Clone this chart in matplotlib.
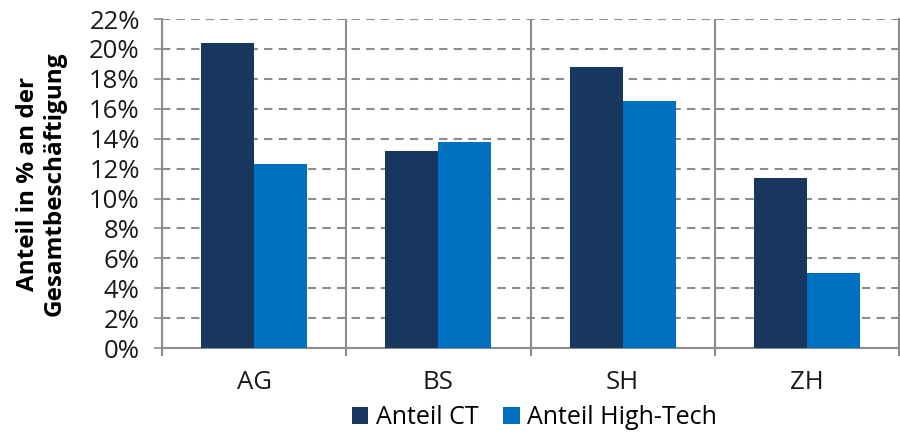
import matplotlib
matplotlib.use('Agg')
import matplotlib.pyplot as plt
import numpy as np

cantons = ['AG', 'BS', 'SH', 'ZH']
anteil_ct = [20.4, 13.2, 18.8, 11.4]
anteil_hightech = [12.3, 13.8, 16.5, 5.0]
y_ticks = list(range(0, 23, 2))

plt.rcParams['font.family'] = ['Open Sans', 'DejaVu Sans']

fig = plt.figure(figsize=(9, 4.32), dpi=100)
ax = fig.add_axes([0.18, 0.194, 0.819, 0.762])

x = np.arange(len(cantons))
w = 0.288
ax.bar(x - w / 2, anteil_ct, w, color='#17375E', label='Anteil CT', zorder=3)
ax.bar(x + w / 2, anteil_hightech, w, color='#0070C0', label='Anteil High-Tech', zorder=3)

ax.set_xlim(-0.5, len(cantons) - 0.5)
ax.set_ylim(0, 22)
ax.set_yticks(y_ticks)
ax.set_yticklabels(['%d%%' % t for t in y_ticks])

# category boundaries as major ticks (solid gridlines), names on minor ticks
ax.set_xticks(np.arange(-0.5, len(cantons), 1.0))
ax.set_xticklabels([])
ax.set_xticks(x, minor=True)
ax.set_xticklabels(cantons, minor=True)
ax.tick_params(axis='x', which='major', length=6, color='#8c8c8c', width=1.5)
ax.tick_params(axis='x', which='minor', length=0, pad=16, labelsize=18.5, labelcolor='#1a1a1a')
ax.tick_params(axis='y', length=6, color='#8c8c8c', width=1.2, labelsize=18.5,
               labelcolor='#1a1a1a', pad=10)

ax.grid(axis='x', which='major', color='#8c8c8c', linewidth=1.5, zorder=0)
ax.grid(axis='y', color='#8c8c8c', linestyle=(0, (4, 3)), linewidth=1.5, zorder=0)

ax.spines['top'].set_visible(False)
for s in ['left', 'right', 'bottom']:
    ax.spines[s].set_color('#8c8c8c')
    ax.spines[s].set_linewidth(1.5)

ax.set_ylabel('Anteil in % an der\nGesamtbeschäftigung', fontsize=17.5,
              fontweight='bold', linespacing=1.15, labelpad=16)

fig.legend(loc='lower center', bbox_to_anchor=(0.594, -0.048), ncol=2, frameon=False,
           fontsize=18, handlelength=0.65, handleheight=0.7, handletextpad=0.3,
           columnspacing=1.0)

fig.savefig('out.png', dpi=100)
